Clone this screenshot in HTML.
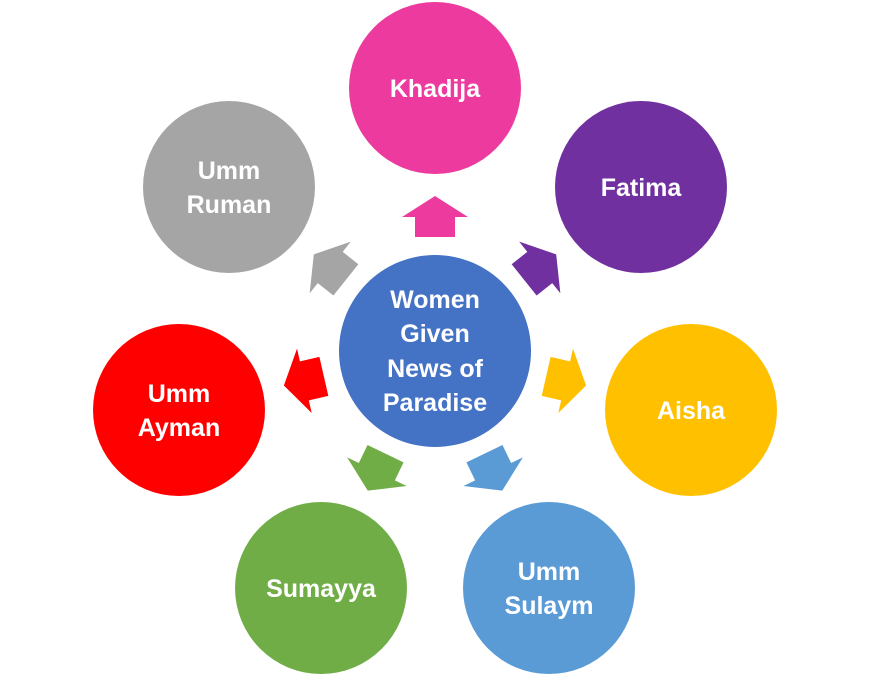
<!DOCTYPE html>
<html><head><meta charset="utf-8"><style>
body{margin:0;background:#fff}
text{font-family:"Liberation Sans",sans-serif;font-weight:bold;fill:#fff;text-anchor:middle}
</style></head><body>
<svg width="870" height="677" viewBox="0 0 870 677">
<defs><polygon id="a" points="435,196 468,217 455,217 455,237 415,237 415,217 402,217"/></defs>
<circle cx="435" cy="351" r="96" fill="#4472C4"/>
<g font-size="25">
<text x="435" y="308">Women</text>
<text x="435" y="342">Given</text>
<text x="435" y="377">News of</text>
<text x="435" y="411">Paradise</text>
</g>
<use href="#a" fill="#EC3A9F" transform="rotate(0 435 351)"/>
<use href="#a" fill="#7030A0" transform="rotate(51.43 435 351)"/>
<use href="#a" fill="#FFC000" transform="rotate(102.86 435 351)"/>
<use href="#a" fill="#5B9BD5" transform="rotate(154.29 435 351)"/>
<use href="#a" fill="#70AD47" transform="rotate(205.71 435 351)"/>
<use href="#a" fill="#FF0000" transform="rotate(257.14 435 351)"/>
<use href="#a" fill="#A5A5A5" transform="rotate(308.57 435 351)"/>
<circle cx="435" cy="88" r="86" fill="#EC3A9F"/>
<circle cx="641" cy="187" r="86" fill="#7030A0"/>
<circle cx="691" cy="410" r="86" fill="#FFC000"/>
<circle cx="549" cy="588" r="86" fill="#5B9BD5"/>
<circle cx="321" cy="588" r="86" fill="#70AD47"/>
<circle cx="179" cy="410" r="86" fill="#FF0000"/>
<circle cx="229" cy="187" r="86" fill="#A5A5A5"/>
<g font-size="25">
<text x="435" y="97">Khadija</text>
<text x="641" y="196">Fatima</text>
<text x="691" y="419">Aisha</text>
<text x="549" y="580">Umm</text><text x="549" y="614">Sulaym</text>
<text x="321" y="597">Sumayya</text>
<text x="179" y="402">Umm</text><text x="179" y="436">Ayman</text>
<text x="229" y="179">Umm</text><text x="229" y="213">Ruman</text>
</g>
</svg>
</body></html>
